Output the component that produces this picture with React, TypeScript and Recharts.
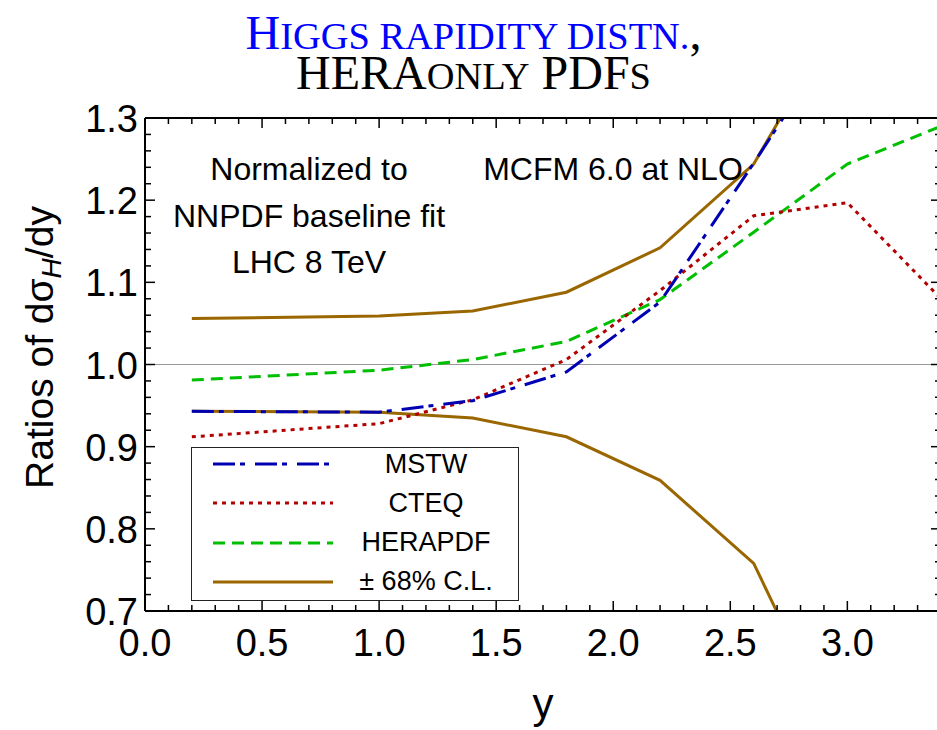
import { LineChart, Line, XAxis, YAxis, ReferenceLine, Legend, Label } from 'recharts';

// rapidity points where the ratios were evaluated
const rapidity = [0.2, 1.0, 1.4, 1.8, 2.2, 2.6, 3.0, 3.4];
const mstw = [0.943, 0.942, 0.956, 0.991, 1.076, 1.245, 1.42, null];
const cteq = [0.912, 0.928, 0.957, 1.006, 1.09, 1.181, 1.197, 1.08];
const herapdf = [0.981, 0.993, 1.006, 1.028, 1.079, 1.161, 1.244, 1.29];
const clUpper = [1.056, 1.059, 1.065, 1.088, 1.142, 1.244, 1.44, null];
const clLower = [0.943, 0.942, 0.935, 0.912, 0.859, 0.758, 0.52, null];

const xTicks = [
  0, 0.1, 0.2, 0.3, 0.4, 0.5, 0.6, 0.7, 0.8, 0.9, 1.0, 1.1, 1.2, 1.3, 1.4, 1.5, 1.6, 1.7,
  1.8, 1.9, 2.0, 2.1, 2.2, 2.3, 2.4, 2.5, 2.6, 2.7, 2.8, 2.9, 3.0, 3.1, 3.2, 3.3, 3.4,
];
const xMajorTicks = [0, 0.5, 1.0, 1.5, 2.0, 2.5, 3.0];
const yTicks = [
  0.7, 0.72, 0.74, 0.76, 0.78, 0.8, 0.82, 0.84, 0.86, 0.88, 0.9, 0.92, 0.94, 0.96, 0.98, 1.0,
  1.02, 1.04, 1.06, 1.08, 1.1, 1.12, 1.14, 1.16, 1.18, 1.2, 1.22, 1.24, 1.26, 1.28, 1.3,
];
const yMajorTicks = [0.7, 0.8, 0.9, 1.0, 1.1, 1.2, 1.3];

const BLUE = '#0000b3';
const RED = '#b30000';
const GREEN = '#00bf00';
const BROWN = '#996600';

const legendItems = [
  { name: 'MSTW', color: BLUE, dash: '22 5 5 10' },
  { name: 'CTEQ', color: RED, dash: '4 5' },
  { name: 'HERAPDF', color: GREEN, dash: '12 7' },
  { name: '± 68% C.L.', color: BROWN, dash: undefined },
];

const chartData = rapidity.map((x, i) => ({
  x,
  mstw: mstw[i],
  cteq: cteq[i],
  herapdf: herapdf[i],
  upper: clUpper[i],
  lower: clLower[i],
}));

const isMajor = (v: number, majors: number[]) => majors.some((m) => Math.abs(m - v) < 1e-6);
const FONT = '"Liberation Sans", Arial, sans-serif';
const SERIF = '"Liberation Serif", "Times New Roman", serif';

function BottomTick({ x, y, payload }: any) {
  const major = isMajor(payload.value, xMajorTicks);
  return (
    <g>
      <line x1={x} x2={x} y1={y} y2={y - (major ? 10 : 6)} stroke="#000" strokeWidth={1.5} />
      {major && (
        <text x={x} y={y + 45} textAnchor="middle" fontSize={38} fontFamily={FONT} fill="#000">
          {payload.value.toFixed(1)}
        </text>
      )}
    </g>
  );
}

function TopTick({ x, y, payload }: any) {
  const major = isMajor(payload.value, xMajorTicks);
  return <line x1={x} x2={x} y1={y} y2={y + (major ? 10 : 6)} stroke="#000" strokeWidth={1.5} />;
}

function LeftTick({ x, y, payload }: any) {
  const major = isMajor(payload.value, yMajorTicks);
  return (
    <g>
      <line x1={x} x2={x + (major ? 10 : 6)} y1={y} y2={y} stroke="#000" strokeWidth={1.5} />
      {major && (
        <text x={x - 7} y={y + 14} textAnchor="end" fontSize={38} fontFamily={FONT} fill="#000">
          {payload.value.toFixed(1)}
        </text>
      )}
    </g>
  );
}

function RightTick({ x, y, payload }: any) {
  const major = isMajor(payload.value, yMajorTicks);
  return <line x1={x} x2={x - (major ? 10 : 6)} y1={y} y2={y} stroke="#000" strokeWidth={1.5} />;
}

function YTitle({ viewBox }: any) {
  const cx = viewBox.x - 32;
  const cy = viewBox.y + viewBox.height / 2 - 17;
  return (
    <text
      x={cx}
      y={cy}
      transform={`rotate(-90, ${cx}, ${cy})`}
      textAnchor="middle"
      fontSize={39}
      fontFamily={FONT}
      fill="#000"
    >
      Ratios of dσ
      <tspan fontStyle="italic" fontSize={28} dy={8}>H</tspan>
      <tspan dy={-8}>/dy</tspan>
    </text>
  );
}

function XTitle({ viewBox }: any) {
  return (
    <text
      x={viewBox.x + viewBox.width / 2}
      y={viewBox.y + 107}
      textAnchor="middle"
      fontSize={42}
      fontFamily={FONT}
      fill="#000"
    >
      y
    </text>
  );
}

function LegendBox() {
  return (
    <div
      style={{
        width: 328,
        height: 154,
        border: '1px solid #222',
        background: '#fff',
        position: 'relative',
        boxSizing: 'border-box',
        fontFamily: FONT,
      }}
    >
      {legendItems.map((it, i) => (
        <div
          key={it.name}
          style={{
            position: 'absolute',
            left: 0,
            top: 16 + 39.3 * i - 19.5,
            height: 39,
            width: '100%',
            display: 'flex',
            alignItems: 'center',
          }}
        >
          <svg width={120} height={10} style={{ marginLeft: 21 }}>
            <line x1={0} y1={5} x2={120} y2={5} stroke={it.color} strokeWidth={3} strokeDasharray={it.dash} />
          </svg>
          <span style={{ position: 'absolute', left: 159, width: 150, textAlign: 'center', fontSize: 27, color: '#000' }}>
            {it.name}
          </span>
        </div>
      ))}
    </div>
  );
}

// hand-made small caps: capitals at full size, lower case as smaller capitals
const Sc = ({ children }: any) => <span style={{ fontSize: '0.8em' }}>{children}</span>;

export default function App() {
  const titleLine: any = {
    position: 'absolute',
    left: 5,
    width: 937,
    textAlign: 'center',
    fontFamily: SERIF,
    fontSize: 48,
    lineHeight: '36px',
    height: 36,
    color: '#000',
    whiteSpace: 'nowrap',
    zIndex: 2,
  };
  return (
    <div
      style={{
        position: 'absolute',
        left: 0,
        top: 0,
        width: 937,
        height: 730,
        overflow: 'hidden',
        background: '#fff',
        fontFamily: FONT,
      }}
    >
      <div style={{ ...titleLine, top: 15 }}>
        <span style={{ color: '#0000ff' }}>
          H<Sc>IGGS RAPIDITY DISTN.</Sc>
        </span>
        ,
      </div>
      <div style={{ ...titleLine, top: 55 }}>
        HERA<Sc>ONLY</Sc> PDF<Sc>S</Sc>
      </div>

      <LineChart width={950} height={730} data={chartData} margin={{ top: 117, right: 8, bottom: 89, left: 85 }}>
        <XAxis
          dataKey="x"
          type="number"
          domain={[0, 3.4]}
          ticks={xTicks}
          interval={0}
          allowDataOverflow
          height={30}
          tickSize={0}
          tickMargin={0}
          tickLine={false}
          tick={BottomTick}
          axisLine={{ stroke: '#000', strokeWidth: 2 }}
        >
          <Label content={XTitle} />
        </XAxis>
        <XAxis
          xAxisId="top"
          orientation="top"
          dataKey="x"
          type="number"
          domain={[0, 3.4]}
          ticks={xTicks}
          interval={0}
          allowDataOverflow
          height={1}
          tickSize={0}
          tickMargin={0}
          tickLine={false}
          tick={TopTick}
          axisLine={{ stroke: '#000', strokeWidth: 2 }}
        />
        <YAxis
          type="number"
          domain={[0.7, 1.3]}
          ticks={yTicks}
          interval={0}
          allowDataOverflow
          width={60}
          tickSize={0}
          tickMargin={0}
          tickLine={false}
          tick={LeftTick}
          axisLine={{ stroke: '#000', strokeWidth: 2 }}
        >
          <Label content={YTitle} />
        </YAxis>
        <YAxis
          yAxisId="right"
          orientation="right"
          type="number"
          domain={[0.7, 1.3]}
          ticks={yTicks}
          interval={0}
          allowDataOverflow
          width={1}
          tickSize={0}
          tickMargin={0}
          tickLine={false}
          tick={RightTick}
          axisLine={{ stroke: '#000', strokeWidth: 2 }}
        />
        <ReferenceLine y={1} stroke="#999" strokeWidth={1} />
        <Line type="linear" dataKey="upper" name="± 68% C.L." stroke={BROWN} strokeWidth={3} dot={false} isAnimationActive={false} />
        <Line type="linear" dataKey="lower" legendType="none" stroke={BROWN} strokeWidth={3} dot={false} isAnimationActive={false} />
        <Line type="linear" dataKey="herapdf" name="HERAPDF" stroke={GREEN} strokeWidth={3} strokeDasharray="12 7" dot={false} isAnimationActive={false} />
        <Line type="linear" dataKey="cteq" name="CTEQ" stroke={RED} strokeWidth={3} strokeDasharray="4 5" dot={false} isAnimationActive={false} />
        <Line type="linear" dataKey="mstw" name="MSTW" stroke={BLUE} strokeWidth={3} strokeDasharray="22 5 5 10" dot={false} isAnimationActive={false} />
        <Legend
          layout="vertical"
          align="center"
          verticalAlign="middle"
          content={() => <LegendBox />}
          wrapperStyle={{ left: 191, top: 447, width: 328, height: 154 }}
        />
      </LineChart>

      <div style={{ position: 'absolute', left: 159, top: 146, width: 300, textAlign: 'center', fontSize: 32, lineHeight: '46.5px', color: '#000' }}>
        Normalized to
        <br />
        NNPDF baseline fit
        <br />
        LHC 8 TeV
      </div>
      <div style={{ position: 'absolute', left: 463, top: 146, width: 300, textAlign: 'center', fontSize: 32, lineHeight: '46.5px', color: '#000' }}>
        MCFM 6.0 at NLO
      </div>
    </div>
  );
}
